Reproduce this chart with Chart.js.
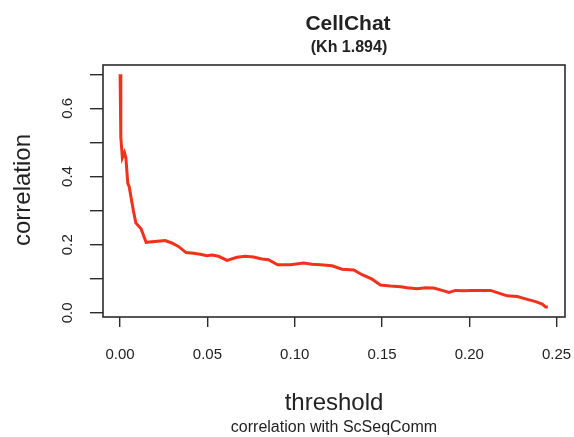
<!DOCTYPE html>
<html lang="en">
<head>
    <meta charset="UTF-8">
    <title>CellChat threshold correlation</title>
    <style>
        body { margin: 0; background: #fff; }
        #wrap { width: 574px; height: 437px; }
    </style>
</head>
<body>
    <div id="wrap"><canvas id="chart" width="574" height="437"></canvas></div>

    <script src="https://cdn.jsdelivr.net/npm/chart.js"></script>
    <script>
        // values
        const thresholds = [0, 0.0004, 0.0013, 0.0025, 0.0033, 0.0044, 0.0052, 0.0076, 0.0090, 0.0120,
            0.0149, 0.0258, 0.0296, 0.0334, 0.0378, 0.0420, 0.0459, 0.0497, 0.0526, 0.0564,
            0.0612, 0.0669, 0.0717, 0.0764, 0.0812, 0.0850, 0.0902, 0.0975, 0.1051, 0.1099,
            0.1147, 0.1214, 0.1271, 0.1338, 0.1386, 0.1443, 0.1491, 0.1548, 0.1606, 0.1644,
            0.1701, 0.1749, 0.1796, 0.1845, 0.1883, 0.1921, 0.1968, 0.2007, 0.2122, 0.2169,
            0.2217, 0.2275, 0.2322, 0.2380, 0.2418, 0.2437, 0.2450];
        const correlations = [0.70, 0.515, 0.455, 0.47, 0.455, 0.38, 0.37, 0.30, 0.264, 0.247,
            0.207, 0.212, 0.205, 0.195, 0.177, 0.175, 0.172, 0.168, 0.170, 0.166,
            0.154, 0.163, 0.166, 0.164, 0.158, 0.156, 0.141, 0.141, 0.146, 0.143,
            0.141, 0.138, 0.128, 0.126, 0.112, 0.099, 0.082, 0.079, 0.077, 0.074,
            0.071, 0.074, 0.073, 0.066, 0.060, 0.066, 0.065, 0.066, 0.066, 0.058,
            0.050, 0.048, 0.041, 0.033, 0.026, 0.017, 0.017];

        const xTicks = [0, 0.05, 0.10, 0.15, 0.20, 0.25];
        const xTickLabels = ['0.00', '0.05', '0.10', '0.15', '0.20', '0.25'];
        const yTicks = [0, 0.1, 0.2, 0.3, 0.4, 0.5, 0.6, 0.7];
        const yTickLabels = ['0.0', '', '0.2', '', '0.4', '', '0.6', ''];

        const FONT = '"Liberation Sans", Arial, sans-serif';
        const ink = '#2b2b2b';

        // box, rotated y labels and titles, R style
        const rDecor = {
            id: 'rDecor',
            afterDraw(chart) {
                const c = chart.ctx;
                const a = chart.chartArea;
                const ys = chart.scales.y;
                c.save();
                c.strokeStyle = ink;
                c.lineWidth = 1.6;
                c.strokeRect(a.left, a.top, a.right - a.left, a.bottom - a.top);

                c.fillStyle = '#222';
                c.textAlign = 'center';
                c.textBaseline = 'middle';
                c.font = '15px ' + FONT;
                yTicks.forEach((v, i) => {
                    if (!yTickLabels[i]) return;
                    c.save();
                    c.translate(68, ys.getPixelForValue(v));
                    c.rotate(-Math.PI / 2);
                    c.fillText(yTickLabels[i], 0, 0);
                    c.restore();
                });

                c.save();
                c.translate(23, 190);
                c.rotate(-Math.PI / 2);
                c.font = '24px ' + FONT;
                c.fillText('correlation', 0, 0);
                c.restore();

                c.textBaseline = 'alphabetic';
                c.font = 'bold 21px ' + FONT;
                c.fillText('CellChat', 348, 30);
                c.font = 'bold 16px ' + FONT;
                c.fillText('(Kh 1.894)', 349, 52);

                c.font = '24px ' + FONT;
                c.fillText('threshold', 334, 410);
                c.font = '16px ' + FONT;
                c.fillText('correlation with ScSeqComm', 334, 432);
                c.restore();
            }
        };

        new Chart(document.getElementById('chart'), {
            type: 'scatter',
            data: {
                datasets: [{
                    data: thresholds.map((t, i) => ({ x: t, y: correlations[i] })),
                    showLine: true,
                    borderColor: '#f2311c',
                    borderWidth: 3,
                    pointRadius: 0,
                    tension: 0
                }]
            },
            options: {
                responsive: false,
                animation: false,
                layout: { padding: { top: 65, right: 9, left: 0, bottom: 0 } },
                plugins: { legend: { display: false }, tooltip: { enabled: false } },
                scales: {
                    x: {
                        type: 'linear',
                        min: -0.0098,
                        max: 0.2548,
                        afterBuildTicks: s => { s.ticks = xTicks.map(v => ({ value: v })); },
                        afterFit: s => { s.height = 120; s.paddingLeft = 0; s.paddingRight = 0; },
                        grid: { drawOnChartArea: false, drawTicks: true, tickLength: 10, color: ink, lineWidth: 1.4 },
                        border: { display: false },
                        ticks: {
                            color: '#222',
                            font: { family: FONT, size: 15 },
                            padding: 19,
                            maxRotation: 0,
                            autoSkip: false,
                            callback: (v) => xTickLabels[xTicks.indexOf(v)]
                        }
                    },
                    y: {
                        min: -0.012,
                        max: 0.727,
                        afterBuildTicks: s => { s.ticks = yTicks.map(v => ({ value: v })); },
                        afterFit: s => { s.width = 103; s.paddingTop = 0; s.paddingBottom = 0; },
                        grid: { drawOnChartArea: false, drawTicks: true, tickLength: 13, color: ink, lineWidth: 1.4 },
                        border: { display: false },
                        ticks: { display: false }
                    }
                }
            },
            plugins: [rDecor]
        });
    </script>
</body>
</html>
